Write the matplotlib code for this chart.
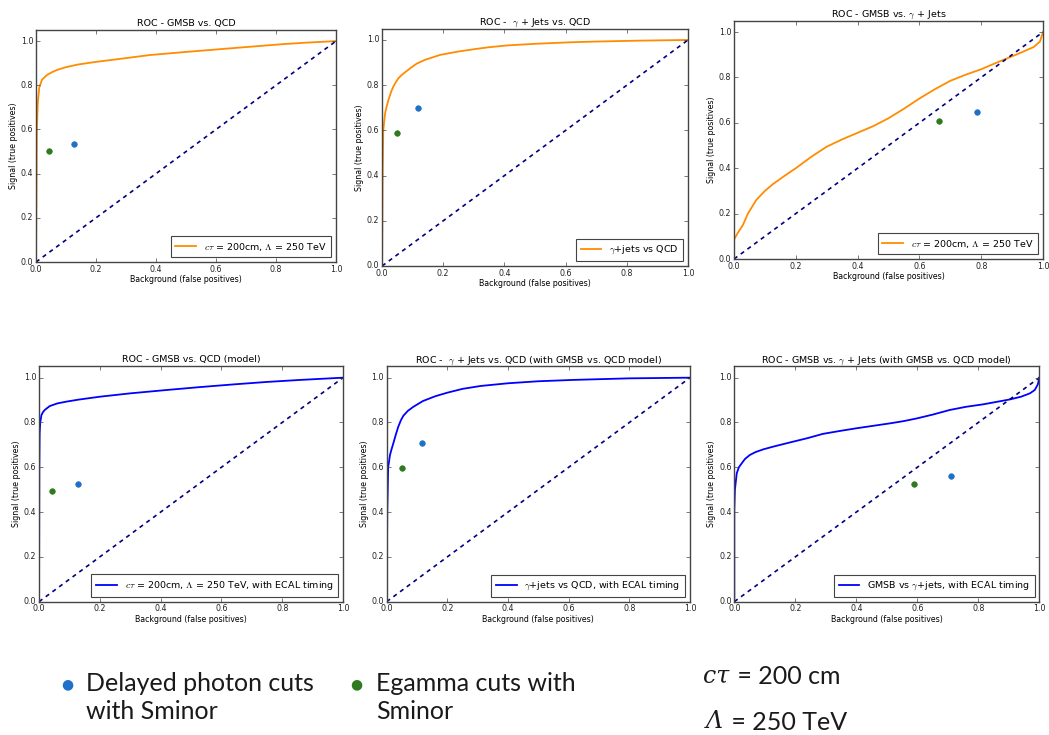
import matplotlib
matplotlib.use("Agg")
import matplotlib.pyplot as plt

plt.style.use("classic")
plt.rcParams.update({
    "figure.facecolor": "white",
    "savefig.facecolor": "white",
    "font.size": 5.7,
    "axes.edgecolor": "#444444",
    "xtick.color": "#444444",
    "ytick.color": "#444444",
    "xtick.labelcolor": "#222222",
    "ytick.labelcolor": "#222222",
    "xtick.major.size": 3,
    "ytick.major.size": 3,
    "xtick.minor.size": 0,
    "ytick.minor.size": 0,
    "legend.edgecolor": "#444444",
    "mathtext.fontset": "cm",
})

# --- ROC curves (background efficiency, signal efficiency) ---
roc_gmsb_qcd_x = [0.0, 0.002, 0.003, 0.006, 0.011, 0.02, 0.036, 0.05, 0.069, 0.10, 0.14,
                  0.20, 0.30, 0.38, 0.50, 0.60, 0.70, 0.82, 0.90, 1.0]
roc_gmsb_qcd_y = [0.0, 0.40, 0.60, 0.72, 0.79, 0.825, 0.846, 0.857, 0.869, 0.882, 0.894,
                  0.906, 0.923, 0.937, 0.951, 0.962, 0.973, 0.986, 0.993, 1.0]

roc_gjets_qcd_x = [0.0, 0.002, 0.004, 0.01, 0.015, 0.021, 0.03, 0.037, 0.045, 0.053, 0.065,
                   0.08, 0.095, 0.113, 0.14, 0.19, 0.25, 0.30, 0.35, 0.41, 0.50, 0.62,
                   0.70, 0.84, 1.0]
roc_gjets_qcd_y = [0.0, 0.40, 0.60, 0.676, 0.705, 0.735, 0.772, 0.794, 0.813, 0.83, 0.846,
                   0.862, 0.878, 0.895, 0.912, 0.934, 0.949, 0.959, 0.968, 0.976, 0.983, 0.99,
                   0.993, 0.997, 1.0]

roc_gmsb_gjets_x = [0.0, 0.0, 0.01, 0.029, 0.045, 0.072, 0.10, 0.126, 0.16, 0.20, 0.25, 0.30,
                    0.35, 0.40, 0.45, 0.50, 0.55, 0.60, 0.65, 0.70, 0.75, 0.80, 0.85, 0.90,
                    0.93, 0.97, 0.99, 1.0]
roc_gmsb_gjets_y = [0.0, 0.085, 0.11, 0.15, 0.20, 0.26, 0.30, 0.33, 0.363, 0.40, 0.45, 0.495,
                    0.527, 0.556, 0.585, 0.62, 0.662, 0.707, 0.748, 0.785, 0.812, 0.836, 0.865,
                    0.893, 0.91, 0.934, 0.958, 1.0]

model_gmsb_qcd_x = [0.0, 0.001, 0.002, 0.004, 0.008, 0.013, 0.019, 0.035, 0.06, 0.09, 0.13,
                    0.20, 0.30, 0.42, 0.53, 0.64, 0.75, 0.86, 1.0]
model_gmsb_qcd_y = [0.0, 0.60, 0.75, 0.80, 0.833, 0.846, 0.856, 0.873, 0.885, 0.893, 0.902,
                    0.915, 0.930, 0.945, 0.958, 0.970, 0.981, 0.99, 1.0]

model_gjets_qcd_x = [0.0, 0.002, 0.005, 0.011, 0.016, 0.022, 0.03, 0.038, 0.047, 0.055, 0.07,
                     0.088, 0.12, 0.16, 0.20, 0.25, 0.31, 0.40, 0.50, 0.615, 0.80, 1.0]
model_gjets_qcd_y = [0.0, 0.40, 0.60, 0.655, 0.68, 0.707, 0.745, 0.78, 0.81, 0.83, 0.852,
                     0.87, 0.896, 0.917, 0.933, 0.95, 0.963, 0.975, 0.984, 0.99, 0.997, 1.0]

model_gmsb_gjets_x = [0.0, 0.0, 0.002, 0.008, 0.015, 0.024, 0.035, 0.051, 0.07, 0.095, 0.13,
                      0.18, 0.24, 0.29, 0.35, 0.40, 0.455, 0.51, 0.555, 0.598, 0.65, 0.707,
                      0.76, 0.816, 0.86, 0.904, 0.94, 0.969, 0.985, 0.995, 1.0]
model_gmsb_gjets_y = [0.0, 0.41, 0.50, 0.573, 0.60, 0.617, 0.637, 0.655, 0.668, 0.68, 0.693,
                      0.71, 0.73, 0.749, 0.763, 0.774, 0.785, 0.796, 0.806, 0.818, 0.835, 0.856,
                      0.87, 0.881, 0.892, 0.903, 0.915, 0.930, 0.945, 0.97, 1.0]

# --- Working points: (background, signal) ---
delayed_x = [0.127, 0.116, 0.785, 0.128, 0.118, 0.710]
delayed_y = [0.534, 0.700, 0.646, 0.525, 0.707, 0.5625]
egamma_x = [0.042, 0.049, 0.665, 0.043, 0.050, 0.589]
egamma_y = [0.504, 0.590, 0.608, 0.494, 0.597, 0.525]

titles = [
    "ROC - GMSB vs. QCD",
    r"ROC -  $\gamma$ + Jets vs. QCD",
    r"ROC - GMSB vs. $\gamma$ + Jets",
    "ROC - GMSB vs. QCD (model)",
    r"ROC -  $\gamma$ + Jets vs. QCD (with GMSB vs. QCD model)",
    r"ROC - GMSB vs. $\gamma$ + Jets (with GMSB vs. QCD model)",
]
legend_labels = [
    r"$c\tau$ = 200cm, $\Lambda$ = 250 TeV",
    r"$\gamma$+jets vs QCD",
    r"$c\tau$ = 200cm, $\Lambda$ = 250 TeV",
    r"$c\tau$ = 200cm, $\Lambda$ = 250 TeV, with ECAL timing",
    r"$\gamma$+jets vs QCD, with ECAL timing",
    r"GMSB vs $\gamma$+jets, with ECAL timing",
]
curves = [
    (roc_gmsb_qcd_x, roc_gmsb_qcd_y),
    (roc_gjets_qcd_x, roc_gjets_qcd_y),
    (roc_gmsb_gjets_x, roc_gmsb_gjets_y),
    (model_gmsb_qcd_x, model_gmsb_qcd_y),
    (model_gjets_qcd_x, model_gjets_qcd_y),
    (model_gmsb_gjets_x, model_gmsb_gjets_y),
]
curve_colors = ["darkorange"] * 3 + ["blue"] * 3

# axes rectangles [left, bottom, width, height] in figure fraction
positions = [
    [0.0343, 0.6435, 0.2860, 0.3156],
    [0.3642, 0.6381, 0.2917, 0.3229],
    [0.6997, 0.6476, 0.2946, 0.3243],
    [0.0372, 0.1814, 0.2898, 0.3200],
    [0.3686, 0.1814, 0.2892, 0.3200],
    [0.7000, 0.1814, 0.2908, 0.3200],
]

W, H = 1049, 735
fig = plt.figure(figsize=(W / 100, H / 100), dpi=100)

for i in range(6):
    ax = fig.add_axes(positions[i])
    cx, cy = curves[i]
    ax.plot(cx, cy, color=curve_colors[i], lw=1.3, label=legend_labels[i],
            solid_joinstyle="round")
    ax.plot([0, 1], [0, 1], color="navy", lw=1.2, linestyle="--", dashes=(3, 3))
    ax.plot([delayed_x[i]], [delayed_y[i]], "o", color="#1f70c8", mec="#1f70c8", ms=4)
    ax.plot([egamma_x[i]], [egamma_y[i]], "o", color="#2e7a1c", mec="#2e7a1c", ms=4)
    ax.set_xlim(0.0, 1.0)
    ax.set_ylim(0.0, 1.05)
    ax.set_xticks([0.0, 0.2, 0.4, 0.6, 0.8, 1.0])
    ax.set_yticks([0.0, 0.2, 0.4, 0.6, 0.8, 1.0])
    ax.tick_params(pad=2)
    ax.set_xlabel("Background (false positives)", labelpad=1)
    ax.set_ylabel("Signal (true positives)", labelpad=2)
    ax.set_title(titles[i], pad=3)
    leg = ax.legend(loc="lower right", numpoints=1, handlelength=2.2,
                    borderpad=0.5, fancybox=False)
    leg.get_frame().set_linewidth(0.8)

# --- key for the working points ---
key_font = dict(family="Lato", fontweight="normal", fontsize=18, color="#1a1a1a")
sym_font = dict(family="DejaVu Serif", style="italic", fontsize=17, color="#1a1a1a")

fig.text(67 / W, 1 - 684 / H, "\u25CF", color="#1f70c8", fontsize=10,
         ha="center", va="center")
fig.text(86 / W, 1 - 672 / H, "Delayed photon cuts\nwith Sminor",
         ha="left", va="top", linespacing=1.25, **key_font)
fig.text(356 / W, 1 - 684 / H, "\u25CF", color="#2e7a1c", fontsize=10,
         ha="center", va="center")
fig.text(376 / W, 1 - 672 / H, "Egamma cuts with\nSminor",
         ha="left", va="top", linespacing=1.25, **key_font)

# parameter values: italic symbol followed by upright text
renderer = fig.canvas.get_renderer()
for x0, yc, sym, rest in [(703, 676, "c\u03C4", " = 200 cm"),
                          (706, 722, "\u039B", " = 250 TeV")]:
    t = fig.text(x0 / W, 1 - yc / H, sym, ha="left", va="center", **sym_font)
    bb = t.get_window_extent(renderer)
    fig.text(bb.x1 / W + 2 / W, 1 - yc / H, rest, ha="left", va="center", **key_font)

fig.savefig("out.png", dpi=100)
